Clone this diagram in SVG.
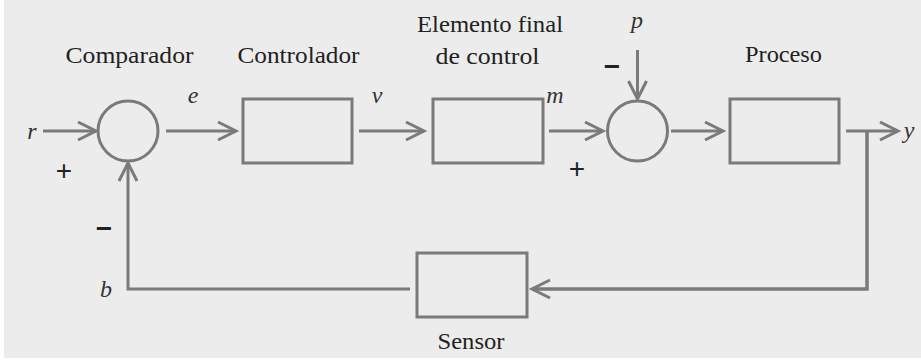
<svg xmlns="http://www.w3.org/2000/svg" width="921" height="360" viewBox="0 0 921 360">
<defs>
<marker id="ah" markerUnits="userSpaceOnUse" viewBox="-22 -12 26 24" markerWidth="26" markerHeight="24" refX="0" refY="0" orient="auto">
<path d="M-18,-9 L0,0 L-18,9" fill="none" stroke="#7a7a7a" stroke-width="3" stroke-linejoin="miter"/>
</marker>
<style>
.bg{fill:#ececec}
.box{fill:none;stroke:#7a7a7a;stroke-width:3}
.wire{fill:none;stroke:#7a7a7a;stroke-width:3}
.arr{marker-end:url(#ah)}
.lbl{font-family:"Liberation Serif",serif;font-size:24px;fill:#222;text-anchor:middle}
.var{font-family:"Liberation Serif",serif;font-size:24px;font-style:italic;fill:#333;text-anchor:middle}
.sgn{font-family:"Liberation Sans",sans-serif;font-size:28px;fill:#222;text-anchor:middle}
.neg{font-weight:bold}
</style>
</defs>
<rect class="bg" x="4" y="0" width="917" height="358"/>
<g id="comparador">
<circle class="box" cx="128" cy="131" r="30"/>
<text class="lbl" x="129.5" y="63" textLength="128" lengthAdjust="spacingAndGlyphs">Comparador</text>
</g>
<g id="controlador">
<rect class="box" x="243" y="99" width="109" height="64"/>
<text class="lbl" x="298.5" y="63" textLength="122" lengthAdjust="spacingAndGlyphs">Controlador</text>
</g>
<g id="elemento">
<rect class="box" x="433" y="99" width="110" height="64"/>
<text class="lbl" x="490" y="32" textLength="146" lengthAdjust="spacingAndGlyphs">Elemento final</text>
<text class="lbl" x="487.5" y="64" textLength="104" lengthAdjust="spacingAndGlyphs">de control</text>
</g>
<g id="sumador">
<circle class="box" cx="637.5" cy="131" r="30"/>
</g>
<g id="proceso">
<rect class="box" x="730" y="99" width="109" height="64"/>
<text class="lbl" x="783.5" y="62" textLength="77" lengthAdjust="spacingAndGlyphs">Proceso</text>
</g>
<g id="sensor">
<rect class="box" x="417" y="253" width="110" height="64"/>
<text class="lbl" x="471" y="349" textLength="67" lengthAdjust="spacingAndGlyphs">Sensor</text>
</g>
<g id="connectors">
<line class="wire arr" x1="43" y1="131" x2="96" y2="131"/>
<line class="wire arr" x1="166" y1="131" x2="236" y2="131"/>
<line class="wire arr" x1="359" y1="131" x2="424" y2="131"/>
<line class="wire arr" x1="549" y1="131" x2="603" y2="131"/>
<line class="wire arr" x1="637.5" y1="50" x2="637.5" y2="99"/>
<line class="wire arr" x1="671" y1="131" x2="723" y2="131"/>
<line class="wire arr" x1="846" y1="131" x2="898" y2="131"/>
<polyline class="wire arr" points="867,131 867,289 532,289" style="stroke-width:3.5"/>
<polyline class="wire arr" points="410,289 128,289 128,163"/>
</g>
<g id="labels">
<text class="var" x="32" y="139">r</text>
<text class="var" x="193" y="103">e</text>
<text class="var" x="377" y="103">v</text>
<text class="var" x="555" y="103">m</text>
<text class="var" x="637" y="28">p</text>
<text class="var" x="909" y="138">y</text>
<text class="var" x="106" y="297">b</text>
<text class="sgn" x="64" y="180">+</text>
<text class="sgn" x="577" y="178">+</text>
<text class="sgn neg" x="104" y="238">−</text>
<text class="sgn neg" x="612" y="76">−</text>
</g>
</svg>
